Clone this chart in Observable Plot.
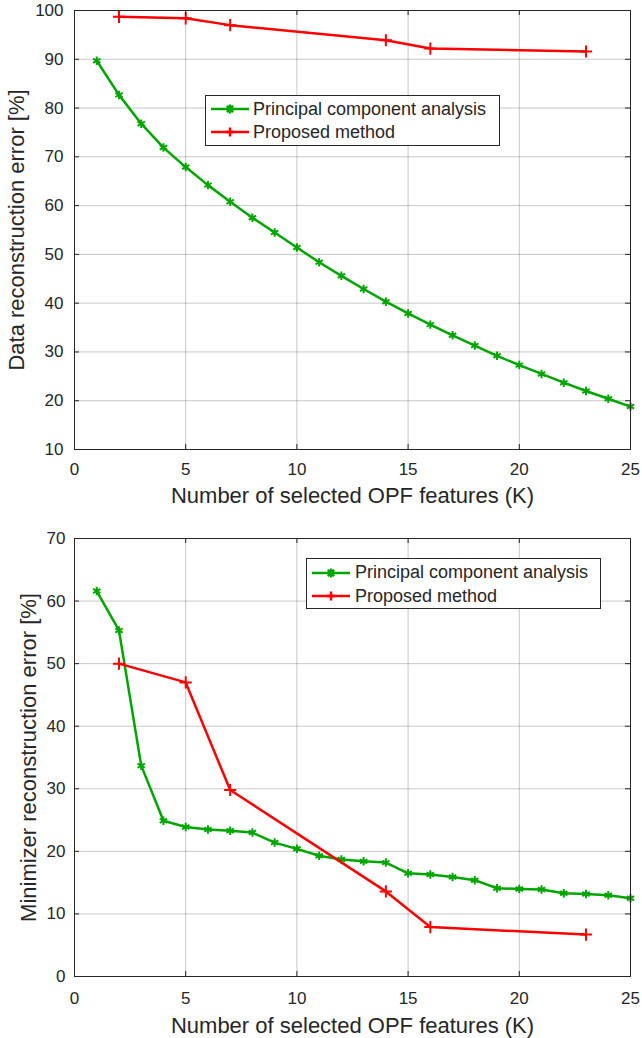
<!DOCTYPE html>
<html>
<head>
<meta charset="utf-8">
<script src="https://cdn.jsdelivr.net/npm/d3@7"></script>
<script src="https://cdn.jsdelivr.net/npm/@observablehq/plot@0.6"></script>
<style>
  body { margin: 0; background: #fff; font-family: "Liberation Sans", Arial, sans-serif; }
  #wrap { position: relative; width: 642px; height: 1038px; }
  #wrap > svg { display: block; overflow: visible; }
  .legend { position: absolute; background: #fff; border: 1px solid #262626; box-sizing: border-box; }
  .row { position: absolute; left: 0; height: 22px; display: flex; align-items: center; }
  .row span { font-size: 18px; color: #262626; white-space: nowrap; }
  .row svg { display: block; }
</style>
</head>
<body>
<div id="wrap"></div>
<script>
// ---- data ----
const kPCA = [1,2,3,4,5,6,7,8,9,10,11,12,13,14,15,16,17,18,19,20,21,22,23,24,25];
const dataErrPCA = [89.7,82.7,76.8,71.9,67.9,64.2,60.8,57.5,54.5,51.4,48.4,45.6,42.9,40.3,37.9,35.6,33.4,31.3,29.2,27.3,25.5,23.7,22.0,20.4,18.8];
const kProposed = [2,5,7,14,16,23];
const dataErrProposed = [98.7,98.4,97.0,93.9,92.2,91.6];
const minErrPCA = [61.6,55.3,33.7,24.9,23.9,23.5,23.3,23.0,21.4,20.4,19.3,18.7,18.4,18.2,16.5,16.3,15.9,15.4,14.1,14.0,13.9,13.3,13.2,13.0,12.5];
const minErrProposed = [50.0,47.0,29.8,13.6,7.9,6.7];
const seriesNames = ["Principal component analysis", "Proposed method"];
const xTicks = [0,5,10,15,20,25];
const yTicksTop = [10,20,30,40,50,60,70,80,90,100];
const yTicksBottom = [0,10,20,30,40,50,60,70];
const xLabel = "Number of selected OPF features (K)";
const yLabelTop = "Data reconstruction error [%]";
const yLabelBottom = "Minimizer reconstruction error [%]";

const GREEN = "#00a600";
const RED = "#ff0000";
const INK = "#262626";
const FONT = "'Liberation Sans', Arial, sans-serif";

function rows(ks, vs) { return ks.map((k, i) => ({k, v: vs[i]})); }

function makePlot({height, marginTop, marginBottom, yDomain, yTicks, pca, prop, yLabel, yLabelDx, tickPadX, tickPadY, xLabelDy}) {
  const plotW = 642 - 74 - 12;
  const plotH = height - marginTop - marginBottom;
  const tl = 5;
  return Plot.plot({
    width: 642,
    height,
    marginLeft: 74,
    marginRight: 12,
    marginTop,
    marginBottom,
    style: {fontFamily: FONT, fontSize: "17px", color: INK, background: "#fff", overflow: "visible"},
    x: {domain: [0, 25]},
    y: {domain: yDomain},
    marks: [
      Plot.gridX(xTicks, {stroke: "#000", strokeOpacity: 0.22}),
      Plot.gridY(yTicks, {stroke: "#000", strokeOpacity: 0.22}),
      Plot.line(pca, {x: "k", y: "v", stroke: GREEN, strokeWidth: 2.5}),
      Plot.dot(pca, {x: "k", y: "v", stroke: GREEN, symbol: "asterisk", r: 4, strokeWidth: 2}),
      Plot.line(prop, {x: "k", y: "v", stroke: RED, strokeWidth: 2.5}),
      Plot.dot(prop, {x: "k", y: "v", stroke: RED, symbol: "plus", r: 4, strokeWidth: 2}),
      // inward ticks
      Plot.tickX(xTicks, {x: d => d, stroke: INK, insetTop: plotH - tl}),
      Plot.tickX(xTicks, {x: d => d, stroke: INK, insetBottom: plotH - tl}),
      Plot.tickY(yTicks, {y: d => d, stroke: INK, insetRight: plotW - tl}),
      Plot.tickY(yTicks, {y: d => d, stroke: INK, insetLeft: plotW - tl}),
      Plot.frame({stroke: INK, strokeWidth: 1}),
      Plot.axisX(xTicks, {tickSize: 0, tickPadding: tickPadX, label: null, fontSize: 17, fill: INK}),
      Plot.axisY(yTicks, {tickSize: 0, tickPadding: tickPadY, label: null, fontSize: 17, fill: INK}),
      Plot.text([xLabel], {text: d => d, frameAnchor: "bottom", textAnchor: "middle", lineAnchor: "top", dy: xLabelDy, fontSize: 22, fill: INK}),
      Plot.text([yLabel], {text: d => d, frameAnchor: "left", textAnchor: "middle", rotate: -90, lineAnchor: "top", dx: yLabelDx, fontSize: 22, fill: INK})
    ]
  });
}

const wrap = document.getElementById("wrap");
wrap.appendChild(makePlot({
  height: 512, marginTop: 10, marginBottom: 63, yDomain: [10, 100], yTicks: yTicksTop,
  pca: rows(kPCA, dataErrPCA), prop: rows(kProposed, dataErrProposed),
  yLabel: yLabelTop, yLabelDx: -66, tickPadX: 13, tickPadY: 11, xLabelDy: 38
}));
wrap.appendChild(makePlot({
  height: 526, marginTop: 26, marginBottom: 62, yDomain: [0, 70], yTicks: yTicksBottom,
  pca: rows(kPCA, minErrPCA), prop: rows(kProposed, minErrProposed),
  yLabel: yLabelBottom, yLabelDx: -54, tickPadX: 15, tickPadY: 9, xLabelDy: 41
}));

// legends
function sample(color, symbol) {
  const mark = symbol === "plus"
    ? `<path d="M19,-4.5V4.5M14.5,0H23.5" />`
    : `<path d="M19,-4.5V4.5M15.8,-3.2L22.2,3.2M15.8,3.2L22.2,-3.2" />`;
  return `<svg width="38" height="12" viewBox="0 -6 38 12"><g stroke="${color}" stroke-width="2.5" fill="none"><line x1="0" y1="0" x2="38" y2="0"/>${mark}</g></svg>`;
}
function legend(left, top, width, height, rowYs, lineX, textX) {
  const div = document.createElement("div");
  div.className = "legend";
  Object.assign(div.style, {left: left + "px", top: top + "px", width: width + "px", height: height + "px"});
  const colors = [GREEN, RED];
  const syms = ["asterisk", "plus"];
  seriesNames.forEach((name, i) => {
    const r = document.createElement("div");
    r.className = "row";
    r.style.top = (rowYs[i] - 11) + "px";
    r.style.left = lineX + "px";
    r.innerHTML = sample(colors[i], syms[i]) + `<span style="margin-left:${textX - lineX - 38}px">${name}</span>`;
    div.appendChild(r);
  });
  wrap.appendChild(div);
}
legend(205, 95, 295, 51, [13, 36], 5, 47);
legend(306, 558, 295, 51, [13.5, 37], 5, 48);
</script>
</body>
</html>
